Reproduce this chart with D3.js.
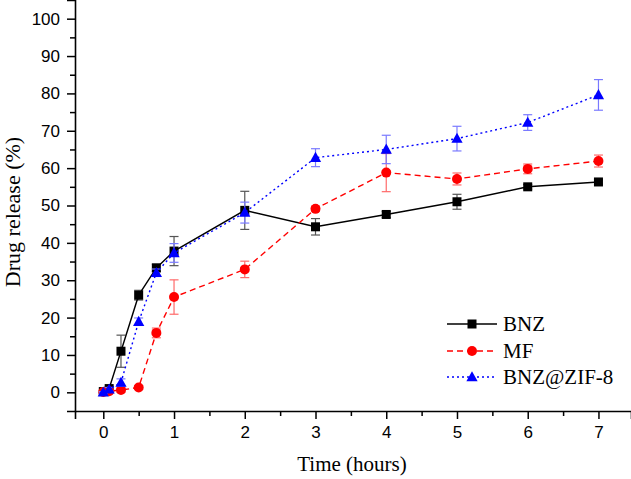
<!DOCTYPE html>
<html><head><meta charset="utf-8">
<script src="https://cdn.jsdelivr.net/npm/d3@7"></script>
<style>
html,body{margin:0;padding:0;background:#fff;}
svg{display:block;}
</style></head>
<body>
<script>
const times = [0, 0.083, 0.25, 0.5, 0.75, 1, 2, 3, 4, 5, 6, 7];
const bnzValues = [0.2, 1.0, 11.0, 26.0, 33.3, 37.8, 48.7, 44.3, 47.6, 51.0, 55.0, 56.3];
const bnzErrors = [0.3, 0.5, 4.3, 1.3, 1.0, 3.9, 5.1, 2.2, 0.8, 2.0, 0.6, 0.6];
const mfValues = [0.1, 0.3, 0.6, 1.3, 15.9, 25.5, 32.9, 49.1, 58.8, 57.1, 59.8, 61.9];
const mfErrors = [0.2, 0.3, 0.6, 0.4, 1.3, 4.6, 2.2, 0.7, 5.1, 1.6, 1.3, 1.6];
const zifValues = [0.0, 0.8, 2.6, 18.9, 32.0, 37.3, 48.1, 62.8, 65.0, 67.9, 72.2, 79.6];
const zifErrors = [0.2, 0.5, 1.0, 1.0, 1.0, 2.5, 2.8, 2.4, 3.8, 3.3, 2.1, 4.1];
const seriesNames = ["BNZ", "MF", "BNZ@ZIF-8"];
const xTicks = [0, 1, 2, 3, 4, 5, 6, 7];
const yTicks = [0, 10, 20, 30, 40, 50, 60, 70, 80, 90, 100];
const xTitle = "Time (hours)";
const yTitle = "Drug release (%)";

const W = 631, H = 479;
const svg = d3.select("body").append("svg").attr("width", W).attr("height", H);

const x = d3.scaleLinear().domain([-0.4, 7.46]).range([75, 631]);
const y = d3.scaleLinear().domain([-5, 105]).range([411, 0]);

const series = [
  {name: seriesNames[0], vals: bnzValues, errs: bnzErrors, color: "#000000", err: "#555555", dash: null, shape: "square"},
  {name: seriesNames[1], vals: mfValues, errs: mfErrors, color: "#ff0000", err: "#ff6a6a", dash: "6,4", shape: "circle"},
  {name: seriesNames[2], vals: zifValues, errs: zifErrors, color: "#0000ff", err: "#7a7aff", dash: "2,3", shape: "triangle"}
];

// axes
const minorX = d3.range(0.5, 7, 1);
const minorY = d3.range(5, 100, 10);

svg.append("g").attr("transform", `translate(0,${y(-5)})`)
  .call(d3.axisBottom(x).tickValues(xTicks).tickSize(8).tickPadding(7).tickFormat(d3.format("d")));
svg.append("g").attr("transform", `translate(0,${y(-5)})`)
  .call(d3.axisBottom(x).tickValues(minorX).tickSize(5).tickFormat(""))
  .select(".domain").remove();
svg.append("g").attr("transform", `translate(${x(-0.4)},0)`)
  .call(d3.axisLeft(y).tickValues(yTicks).tickSize(8).tickPadding(7).tickFormat(d3.format("d")));
svg.append("g").attr("transform", `translate(${x(-0.4)},0)`)
  .call(d3.axisLeft(y).tickValues(minorY).tickSize(5).tickFormat(""))
  .select(".domain").remove();

svg.selectAll(".domain").attr("stroke", "#000").attr("stroke-width", 1.6);
svg.selectAll(".tick line").attr("stroke", "#000").attr("stroke-width", 1.5);
svg.selectAll(".tick text").attr("font-family", "'Liberation Sans', Arial, sans-serif")
  .attr("font-size", 17).attr("fill", "#000");

// titles
svg.append("text").attr("x", 352).attr("y", 471).attr("text-anchor", "middle")
  .attr("font-family", "'Liberation Serif', 'Times New Roman', serif").attr("font-size", 21)
  .text(xTitle);
svg.append("text").attr("transform", "translate(19.5,212) rotate(-90)").attr("text-anchor", "middle")
  .attr("font-family", "'Liberation Serif', 'Times New Roman', serif").attr("font-size", 22)
  .text(yTitle);

function drawMarker(g, shape, cx, cy, color, s) {
  if (shape === "square") {
    g.append("rect").attr("x", cx - s/2).attr("y", cy - s/2).attr("width", s).attr("height", s).attr("fill", color);
  } else if (shape === "circle") {
    g.append("circle").attr("cx", cx).attr("cy", cy).attr("r", s/2 + 0.5).attr("fill", color);
  } else {
    const h = s * 1.05, w = s * 1.25;
    g.append("path").attr("d", `M${cx},${cy - h*0.62}L${cx + w/2},${cy + h*0.45}L${cx - w/2},${cy + h*0.45}Z`).attr("fill", color);
  }
}

const plot = svg.append("g");
series.forEach(s => {
  const g = plot.append("g");
  const pts = times.map((t, i) => ({t, v: s.vals[i], e: s.errs[i]}));
  pts.forEach(p => {
    const cxp = x(p.t);
    g.append("line").attr("x1", cxp).attr("x2", cxp).attr("y1", y(p.v - p.e)).attr("y2", y(p.v + p.e))
      .attr("stroke", s.err).attr("stroke-width", 1.2);
    [p.v - p.e, p.v + p.e].forEach(v => {
      g.append("line").attr("x1", cxp - 4.5).attr("x2", cxp + 4.5).attr("y1", y(v)).attr("y2", y(v))
        .attr("stroke", s.err).attr("stroke-width", 1.2);
    });
  });
  const line = d3.line().x(d => x(d.t)).y(d => y(d.v));
  g.append("path").datum(pts).attr("d", line).attr("fill", "none").attr("stroke", s.color)
    .attr("stroke-width", 1.4).attr("stroke-dasharray", s.dash);
  pts.forEach(p => drawMarker(g, s.shape, x(p.t), y(p.v), s.color, 9));
});

// legend
const legY = [324, 351, 377];
series.forEach((s, i) => {
  const g = svg.append("g");
  g.append("line").attr("x1", 447).attr("x2", 497).attr("y1", legY[i]).attr("y2", legY[i])
    .attr("stroke", s.color).attr("stroke-width", 1.4).attr("stroke-dasharray", s.dash);
  drawMarker(g, s.shape, 472, legY[i], s.color, 9);
  g.append("text").attr("x", 503).attr("y", legY[i] + 7)
    .attr("font-family", "'Liberation Serif', 'Times New Roman', serif").attr("font-size", 21)
    .text(s.name);
});
</script>
</body></html>
